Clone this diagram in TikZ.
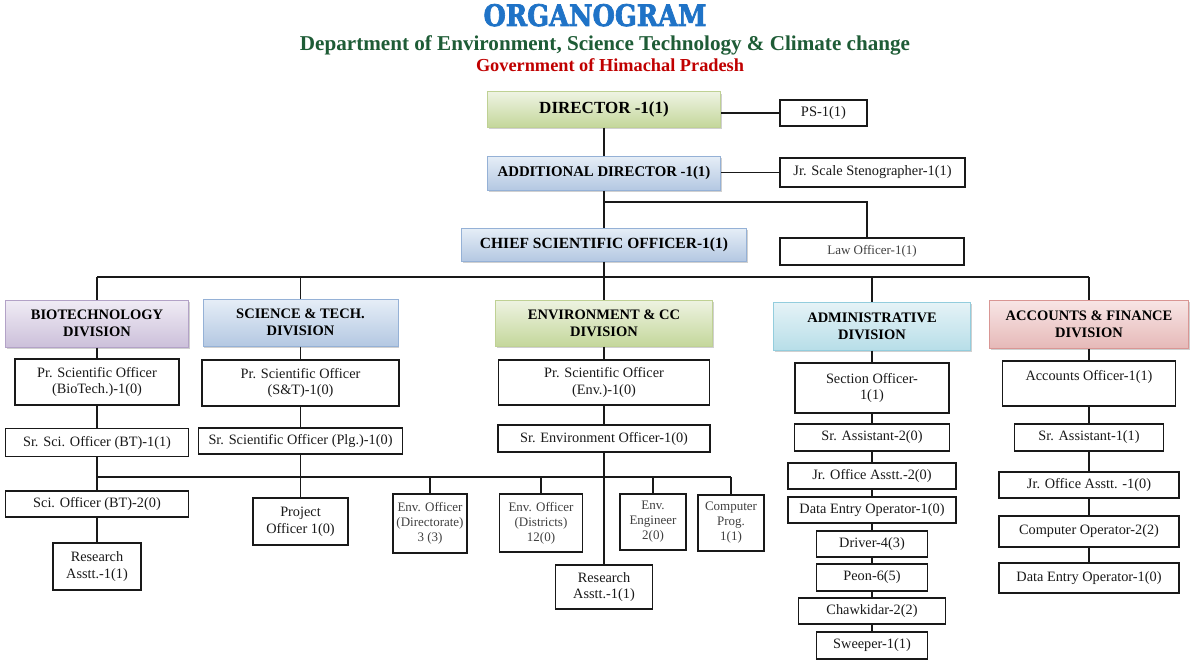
\documentclass[tikz,border=0pt]{standalone}
\usepackage{fontspec}
\setmainfont{Liberation Serif}
\newfontfamily\orgfont[FakeBold=2.5]{DejaVu Serif Bold}
\usetikzlibrary{shadows}
\definecolor{orgblue}{HTML}{1F73C7}
\definecolor{subgreen}{HTML}{1E5C36}
\definecolor{subred}{HTML}{C00000}
\definecolor{gtop}{HTML}{EEF3E2}\definecolor{gbot}{HTML}{C4D79B}\definecolor{gbrd}{HTML}{BFD194}
\definecolor{btop}{HTML}{E6EEF7}\definecolor{bbot}{HTML}{B4C8E2}\definecolor{bbrd}{HTML}{95B1D6}
\definecolor{ptop}{HTML}{F0ECF5}\definecolor{pbot}{HTML}{CCC0DA}\definecolor{pbrd}{HTML}{B3A2C7}
\definecolor{ctop}{HTML}{E6F3F7}\definecolor{cbot}{HTML}{B7DEE8}\definecolor{cbrd}{HTML}{93CDDD}
\definecolor{rtop}{HTML}{F8E6E6}\definecolor{rbot}{HTML}{E6B9B8}\definecolor{rbrd}{HTML}{D99694}
\newcommand\bodyfnt{\fontsize{14.3}{16.7}\selectfont}
\newcommand\smallfnt{\fontsize{13}{15}\selectfont}
\newcommand\headfnt{\fontsize{14.5}{16.7}\selectfont\bfseries}
\tikzset{
  sz/.style 2 args={minimum width=#1pt, minimum height=#2pt},
  pbox/.style={draw=black!90, line width=1.6pt, fill=white, inner sep=0pt, align=center, font=\bodyfnt, text=black!90},
  sbox/.style={pbox, font=\smallfnt, text=black!75},
  headbox/.style={line width=1pt, inner sep=0pt, align=center, font=\headfnt, text=black,
     drop shadow={shadow xshift=1.2pt, shadow yshift=-2.2pt, opacity=0.3, fill=black!60}},
  greenbox/.style={headbox, draw=gbrd, top color=gtop, bottom color=gbot},
  bluebox/.style={headbox, draw=bbrd, top color=btop, bottom color=bbot},
  purplebox/.style={headbox, draw=pbrd, top color=ptop, bottom color=pbot},
  cyanbox/.style={headbox, draw=cbrd, top color=ctop, bottom color=cbot},
  redbox/.style={headbox, draw=rbrd, top color=rtop, bottom color=rbot},
  conn/.style={draw=black!90, line width=1.8pt}
}
\begin{document}
\begin{tikzpicture}[x=1pt,y=-1pt]
\useasboundingbox[fill=white] (0,0) rectangle (1200,669);
% titles
\node[anchor=base, inner sep=0pt, text=orgblue] (title) at (595,26)
  {\resizebox{223pt}{22pt}{\orgfont ORGANOGRAM}};
\node[anchor=base, inner sep=0pt, text=subgreen] (sub1) at (605,50)
  {\resizebox{610pt}{!}{\fontsize{21}{24}\selectfont\bfseries Department of Environment, Science Technology \& Climate change}};
\node[anchor=base, inner sep=0pt, text=subred] (sub2) at (610,72)
  {\resizebox{268pt}{!}{\fontsize{18}{21}\selectfont\bfseries Government of Himachal Pradesh}};

% top
\node[greenbox, sz={233}{35}, font=\fontsize{17}{20}\selectfont\bfseries] (dir) at (604,109.5) {DIRECTOR -1(1)};
\node[pbox, sz={87}{26}, font=\fontsize{14.5}{17}\selectfont] (ps) at (823.5,113) {PS-1(1)};
\node[bluebox, sz={233}{34}, font=\fontsize{14.8}{17}\selectfont\bfseries] (add) at (604,173) {ADDITIONAL DIRECTOR -1(1)};
\node[pbox, sz={185}{29}, font=\fontsize{14.4}{17}\selectfont] (steno) at (872.5,172.5) {Jr. Scale Stenographer-1(1)};
\node[bluebox, sz={285}{33}, font=\fontsize{15.5}{18}\selectfont\bfseries] (cso) at (604,244.5) {CHIEF SCIENTIFIC OFFICER-1(1)};
\node[sbox, sz={184}{27}] (law) at (872,251.5) {Law Officer-1(1)};

\draw[conn] (ps.west) -- (ps.west -| dir.east);
\draw[conn] (steno.west) -- (steno.west -| add.east);
\draw[conn] (dir.south) -- (add.north);
\draw[conn] (add.south) -- (cso.north);
\coordinate (lj) at (604,202);
\draw[conn] (lj) -| ([xshift=-5pt]law.north);

% divisions
\node[purplebox, sz={183}{47}] (bio) at (97,323.5) {BIOTECHNOLOGY\\DIVISION};
\node[bluebox, sz={195}{47}] (st) at (300.5,322.5) {SCIENCE \& TECH.\\DIVISION};
\node[greenbox, sz={217}{46}] (env) at (604,323) {ENVIRONMENT \& CC\\DIVISION};
\node[cyanbox, sz={197}{48}] (adm) at (872,326) {ADMINISTRATIVE\\DIVISION};
\node[redbox, sz={199}{48}] (acc) at (1089,324) {ACCOUNTS \& FINANCE\\DIVISION};

\coordinate (bus) at (604,277);
\draw[conn] (cso.south) -- (bus);
\draw[conn] (bio.north |- bus) -- (acc.north |- bus);
\foreach \n in {bio,st,env,adm,acc} \draw[conn] (\n.north |- bus) -- (\n.north);

% biotech column
\node[pbox, sz={164}{46}] (psobio) at (97,382) {Pr. Scientific Officer\\(BioTech.)-1(0)};
\node[pbox, sz={183}{28}] (srbio) at (97,442.5) {Sr. Sci. Officer (BT)-1(1)};
\node[pbox, sz={183}{26}] (scibt) at (97,504) {Sci. Officer (BT)-2(0)};
\node[pbox, sz={88}{47}] (rabio) at (97,566.5) {Research\\Asstt.-1(1)};
\draw[conn] (bio.south) -- (psobio.north);
\draw[conn] (psobio.south) -- (srbio.north);
\draw[conn] (srbio.south) -- (scibt.north);
\draw[conn] (scibt.south) -- (rabio.north);

% S&T column
\node[pbox, sz={197}{46}] (psost) at (300.5,383) {Pr. Scientific Officer\\(S\&T)-1(0)};
\node[pbox, sz={204}{26}] (srplg) at (300.5,441) {Sr. Scientific Officer (Plg.)-1(0)};
\node[pbox, sz={95}{47}] (po) at (300.5,521.5) {Project\\Officer 1(0)};
\draw[conn] (st.south) -- (psost.north);
\draw[conn] (psost.south) -- (srplg.north);
\draw[conn] (srplg.south) -- (po.north);

% Env column
\node[pbox, sz={211}{45}] (psoenv) at (604,382.5) {Pr. Scientific Officer\\(Env.)-1(0)};
\node[pbox, sz={212}{27}] (srenv) at (604,438.5) {Sr. Environment Officer-1(0)};
\node[sbox, sz={74}{59}] (envdir) at (430,523.5) {Env. Officer\\(Directorate)\\3 (3)};
\node[sbox, sz={83}{58}] (envdist) at (541,523) {Env. Officer\\(Districts)\\12(0)};
\node[sbox, sz={66}{56}] (enveng) at (653,522) {Env.\\Engineer\\2(0)};
\node[sbox, sz={66}{56}] (cp) at (731,523) {Computer\\Prog.\\1(1)};
\node[pbox, sz={97}{44}] (raenv) at (604,587) {Research\\Asstt.-1(1)};
\draw[conn] (env.south) -- (psoenv.north);
\draw[conn] (psoenv.south) -- (srenv.north);
\draw[conn] (srenv.south) -- (raenv.north);
\coordinate (bus2) at (604,477);
\draw[conn] (srbio.south |- bus2) -- (cp.north |- bus2);
\foreach \n in {envdir,envdist,enveng,cp} \draw[conn] (\n.north |- bus2) -- (\n.north);

% Admin column
\node[pbox, sz={154}{50}] (so) at (872,388) {Section Officer-\\1(1)};
\node[pbox, sz={155}{27}] (sra) at (872,437.5) {Sr. Assistant-2(0)};
\node[pbox, sz={168}{26}] (joa) at (872,476) {Jr. Office Asstt.-2(0)};
\node[pbox, sz={168}{26}] (deo) at (872,510) {Data Entry Operator-1(0)};
\node[pbox, sz={111}{26}] (drv) at (872,544) {Driver-4(3)};
\node[pbox, sz={111}{27}] (peon) at (872,577.5) {Peon-6(5)};
\node[pbox, sz={147}{26}] (chk) at (872,611) {Chawkidar-2(2)};
\node[pbox, sz={111}{27}] (swp) at (872,645.5) {Sweeper-1(1)};
\draw[conn] (adm.south) -- (so.north);
\draw[conn] (so.south) -- (sra.north);
\draw[conn] (sra.south) -- (joa.north);
\draw[conn] (joa.south) -- (deo.north);
\draw[conn] (deo.south) -- (drv.north);
\draw[conn] (drv.south) -- (peon.north);
\draw[conn] (peon.south) -- (chk.north);
\draw[conn] (chk.south) -- (swp.north);

% Accounts column
\node[pbox, sz={173}{45}] (ao) at (1089,383.5) {Accounts Officer-1(1)\\\mbox{}};
\node[pbox, sz={149}{27}] (sraa) at (1089,437.5) {Sr. Assistant-1(1)};
\node[pbox, sz={180}{26}] (joaa) at (1089,485) {Jr. Office Asstt. -1(0)};
\node[pbox, sz={180}{31}] (cop) at (1089,531.5) {Computer Operator-2(2)};
\node[pbox, sz={180}{30}] (deoa) at (1089,578) {Data Entry Operator-1(0)};
\draw[conn] (acc.south) -- (ao.north);
\draw[conn] (ao.south) -- (sraa.north);
\draw[conn] (sraa.south) -- (joaa.north);
\draw[conn] (joaa.south) -- (cop.north);
\draw[conn] (cop.south) -- (deoa.north);
\end{tikzpicture}
\end{document}
